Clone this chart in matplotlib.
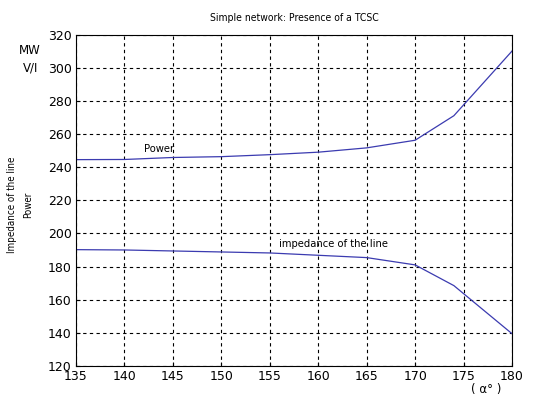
import matplotlib
matplotlib.use("Agg")
import matplotlib.pyplot as plt
from matplotlib import font_manager

alpha = [135, 140, 145, 150, 155, 160, 165, 170, 174, 180]
power = [244.5, 244.6, 245.8, 246.3, 247.5, 249.0, 251.6, 256.2, 271.0, 310.0]
impedance = [190.2, 190.0, 189.4, 188.8, 188.2, 186.8, 185.4, 181.0, 168.5, 139.5]
xticks = [135, 140, 145, 150, 155, 160, 165, 170, 175, 180]
yticks = [120, 140, 160, 180, 200, 220, 240, 260, 280, 300, 320]

fonts = font_manager.fontManager.ttflist
names = {f.name for f in fonts}
narrow_opts = [f.name for f in fonts if ("Narrow" in f.name or "Condensed" in f.name
                                         or f.stretch in ("condensed", "semi-condensed", "extra-condensed"))]
if "Liberation Sans Narrow" in names:
    narrow = dict(family="Liberation Sans Narrow")
elif narrow_opts:
    narrow = dict(family=narrow_opts[0], stretch="condensed")
else:
    narrow = dict(family="DejaVu Sans", stretch="condensed")

fig = plt.figure(figsize=(5.56, 3.98), dpi=100)
ax = fig.add_axes([76/556, 1-366/398, (512-76)/556, (366-34.5)/398])
line_color = "#3b3bb0"
ax.plot(alpha, power, color=line_color, lw=0.9)
ax.plot(alpha, impedance, color=line_color, lw=0.9)
ax.set_xlim(135, 180)
ax.set_ylim(120, 320)
ax.set_xticks(xticks)
ax.set_yticks(yticks)
ax.tick_params(direction="in", length=3, labelsize=9, colors="black", pad=3)
ax.grid(True, color="black", linestyle=(0, (3, 3)), linewidth=0.8)
for s in ax.spines.values():
    s.set_color("black")
    s.set_linewidth(0.8)

ax.set_title("Simple network: Presence of a TCSC", fontsize=7.5, pad=10, **narrow)
fig.text(20/556, 1-205/398, "Impedance of the line\nPower", rotation=90, ha="center", va="center",
         fontsize=7, linespacing=1.8, **narrow)
fig.text(30/556, 1-51/398, "MW", ha="center", va="center", fontsize=8.5)
fig.text(31/556, 1-68/398, "V/I", ha="center", va="center", fontsize=8.5)
fig.text(486/556, 1-389/398, "( α° )", ha="center", va="center", fontsize=8.5)
ax.text(142.0, 251.2, "Power", fontsize=8, ha="left", va="center", **narrow)
ax.text(156.0, 193.7, "impedance of the line", fontsize=8, ha="left", va="center", **narrow)

fig.savefig("out.png", dpi=100)
